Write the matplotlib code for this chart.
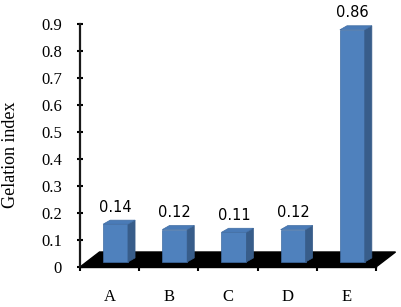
import matplotlib
matplotlib.use("Agg")
import matplotlib.pyplot as plt
from matplotlib.patches import Polygon

categories = ["A", "B", "C", "D", "E"]
values = [0.14, 0.12, 0.11, 0.12, 0.86]
value_labels = ["0.14", "0.12", "0.11", "0.12", "0.86"]
yticks = [0, 0.1, 0.2, 0.3, 0.4, 0.5, 0.6, 0.7, 0.8, 0.9]
ytick_labels = ["0", "0.1", "0.2", "0.3", "0.4", "0.5", "0.6", "0.7", "0.8", "0.9"]

SERIF = "Liberation Serif"

fig = plt.figure(figsize=(4.01, 3.07), dpi=100)
ax = fig.add_axes([80/401, 1-267/307, 296/401, 243/307])
ax.set_xlim(-0.5, len(categories) - 0.5)
ax.set_ylim(0, 0.9)

# 3D geometry (data units)
floor_dx, floor_dy = 0.33, 0.0556
bar_x0, bar_w = -0.11, 0.42
side_dx, side_dy = 0.12, 0.015
base_y = 0.0185

front_c = "#4F81BD"
side_c = "#385D8A"
top_c = "#4A7BB7"

# floor
x_lo, x_hi = -0.5, len(categories) - 0.5
floor = Polygon([(x_lo, 0), (x_hi, 0), (x_hi + floor_dx, floor_dy), (x_lo + floor_dx, floor_dy)],
                closed=True, facecolor="black", edgecolor="black", clip_on=False, zorder=1)
ax.add_patch(floor)

for i, v in enumerate(values):
    xl = i + bar_x0
    xr = xl + bar_w
    yb = base_y
    yt = base_y + v
    front = Polygon([(xl, yb), (xr, yb), (xr, yt), (xl, yt)], closed=True,
                    facecolor=front_c, edgecolor="#3F6CA3", lw=0.5, clip_on=False, zorder=3)
    side = Polygon([(xr, yb), (xr + side_dx, yb + side_dy), (xr + side_dx, yt + side_dy), (xr, yt)],
                   closed=True, facecolor=side_c, edgecolor=side_c, lw=0.5, clip_on=False, zorder=3)
    top = Polygon([(xl, yt), (xr, yt), (xr + side_dx, yt + side_dy), (xl + side_dx, yt + side_dy)],
                  closed=True, facecolor=top_c, edgecolor="#3F6CA3", lw=0.5, clip_on=False, zorder=3)
    for p in (front, side, top):
        ax.add_patch(p)
    ax.annotate(value_labels[i], xy=(xl + bar_w / 2, yt + side_dy), xytext=(0, 4),
                textcoords="offset points", ha="center", va="bottom",
                fontsize=10.5, family="DejaVu Sans", color="black", clip_on=False, zorder=4)

for s in ["top", "right"]:
    ax.spines[s].set_visible(False)
ax.spines["left"].set_linewidth(1.6)
ax.spines["left"].set_color("#1a1a1a")
ax.spines["bottom"].set_linewidth(1.0)
ax.spines["bottom"].set_color("black")
ax.patch.set_visible(False)

ax.set_yticks(yticks)
ax.set_yticklabels(ytick_labels, family=SERIF, fontsize=12)
ax.tick_params(axis="y", direction="inout", length=4, width=1.5, pad=11, color="black")

ax.set_xticks([i - 0.5 for i in range(len(categories) + 1)])
ax.set_xticklabels([])
ax.tick_params(axis="x", which="major", direction="out", length=3, width=1.5, color="black")
ax.set_xticks(range(len(categories)), minor=True)
ax.set_xticklabels(categories, minor=True, family=SERIF, fontsize=12)
ax.tick_params(axis="x", which="minor", length=0, pad=16)

fig.text(11/401, 1 - 155/307, "Gelation index", rotation=90, ha="center", va="center",
         family=SERIF, fontsize=13)

fig.savefig("out.png", dpi=100)
